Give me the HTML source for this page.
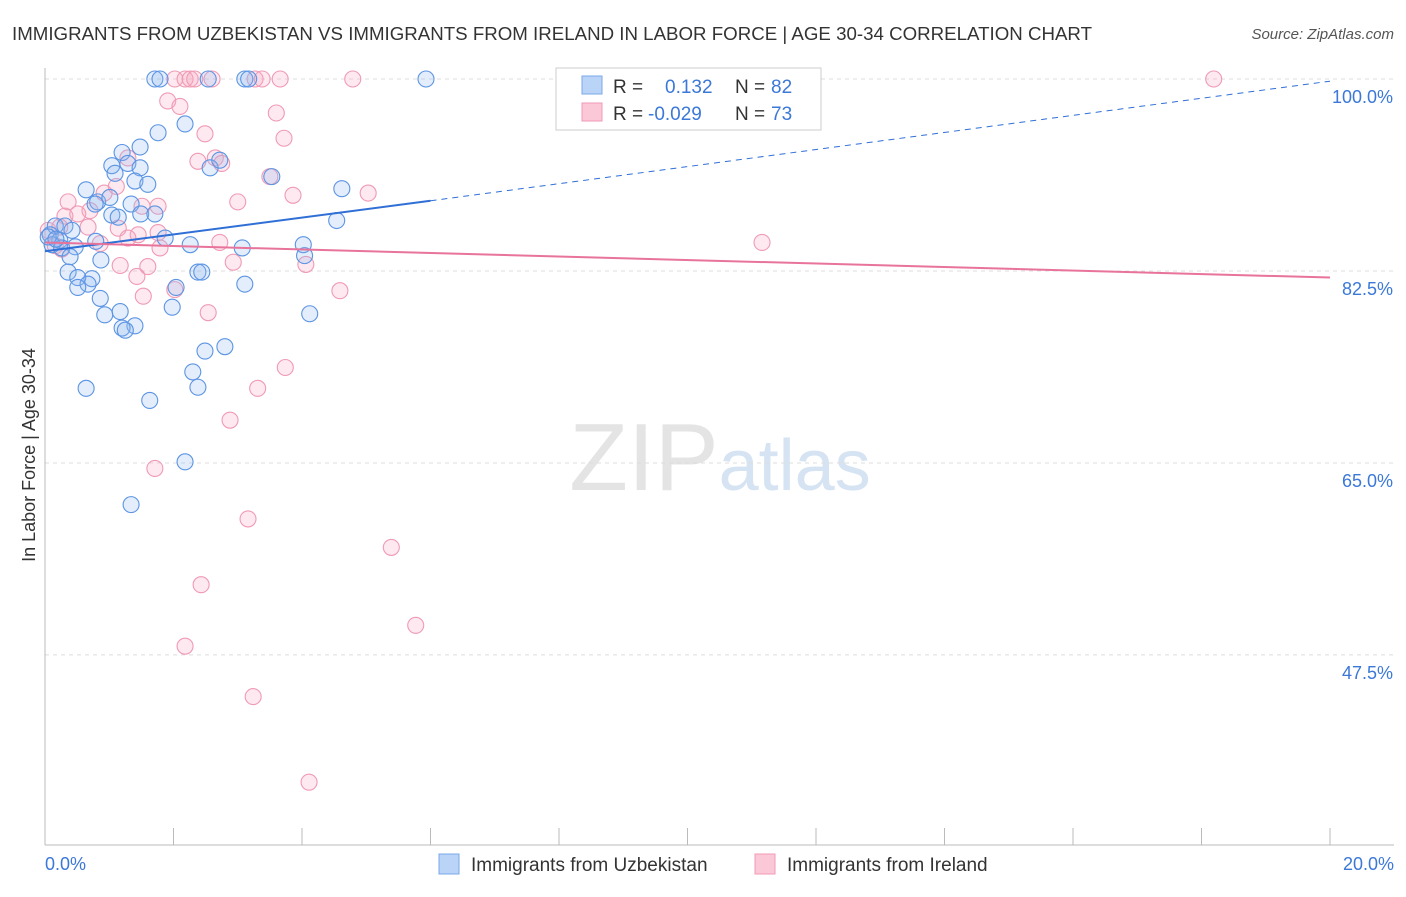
<!DOCTYPE html>
<html><head><meta charset="utf-8"><style>
body{margin:0;background:#fff;font-family:"Liberation Sans",sans-serif;}
svg text{font-family:"Liberation Sans",sans-serif;}
</style></head><body>
<svg id="chart" width="1406" height="892">
<text x="12" y="40" font-size="18" fill="#333" textLength="1080" lengthAdjust="spacingAndGlyphs">IMMIGRANTS FROM UZBEKISTAN VS IMMIGRANTS FROM IRELAND IN LABOR FORCE | AGE 30-34 CORRELATION CHART</text>
<text x="1394" y="39" font-size="15" fill="#555" font-style="italic" text-anchor="end">Source: ZipAtlas.com</text>
<text x="720" y="490" font-size="96" fill="#e4e4e4" text-anchor="middle" font-family="Liberation Serif">ZIP<tspan fill="#d6e3f3" font-family="Liberation Sans" font-size="72">atlas</tspan></text>
<g id="grid"></g>
<g id="axes"></g>
<g id="points"></g>
<g id="trends"></g>
<text x="35" y="455" font-size="18" fill="#333" text-anchor="middle" transform="rotate(-90 35 455)">In Labor Force | Age 30-34</text>
<g>
<rect x="556" y="68" width="265" height="62" fill="#fff" stroke="#ccc"/>
<rect x="582" y="76" width="20" height="18" fill="#b9d4f7" stroke="#7aa8e8"/>
<rect x="582" y="103" width="20" height="18" fill="#fbc8d8" stroke="#f09ab5"/>
<text x="613" y="93" font-size="19" fill="#333">R = </text><text x="665" y="93" font-size="19" fill="#3b78d8">0.132</text>
<text x="735" y="93" font-size="19" fill="#333">N = </text><text x="771" y="93" font-size="19" fill="#3b78d8">82</text>
<text x="613" y="120" font-size="19" fill="#333">R = </text><text x="648" y="120" font-size="19" fill="#3b78d8">-0.029</text>
<text x="735" y="120" font-size="19" fill="#333">N = </text><text x="771" y="120" font-size="19" fill="#3b78d8">73</text>
</g>
<g>
<rect x="439" y="854" width="20" height="20" fill="#b9d4f7" stroke="#7aa8e8"/>
<text x="471" y="871" font-size="19" fill="#333">Immigrants from Uzbekistan</text>
<rect x="755" y="854" width="20" height="20" fill="#fbc8d8" stroke="#f09ab5"/>
<text x="787" y="871" font-size="19" fill="#333">Immigrants from Ireland</text>
</g>
</svg>
<script>
const yTicks=[100,82.5,65,47.5];
const yTickLabels=["100.0%","82.5%","65.0%","47.5%"];
const xTickValues=[0,2,4,6,8,10,12,14,16,18,20];
const xLabels=["0.0%","20.0%"];
const blueX=[1.71,1.79,2.54,3.11,3.17,5.93,2.18,1.76,1.48,1.2,1.04,1.29,1.48,1.09,2.57,2.72,1.4,1.6,3.53,4.62,0.64,0.82,0.78,1.01,1.34,1.04,1.14,1.49,1.71,4.54,0.16,0.31,0.42,0.08,0.23,0.11,0.26,0.47,0.79,1.87,2.26,3.07,4.02,0.39,0.87,4.04,0.36,0.73,0.51,0.67,0.51,2.38,2.44,2.04,3.11,0.86,1.98,0.93,1.17,1.4,1.2,1.25,4.12,2.8,2.49,2.3,2.38,0.64,1.63,2.18,1.34,0.05,0.17];
const blueY=[100,100,100,100,100,100,95.9,95.1,93.8,93.3,92.1,92.3,91.9,91.4,91.9,92.6,90.7,90.4,91.1,90,89.9,88.8,88.6,89.2,88.6,87.6,87.4,87.7,87.7,87.1,86.6,86.6,86.2,85.8,85.3,84.9,84.6,84.7,85.2,85.5,84.9,84.6,84.9,83.8,83.5,83.9,82.4,81.8,81.9,81.3,81,82.4,82.4,81,81.3,80,79.2,78.5,78.8,77.5,77.3,77.1,78.6,75.6,75.2,73.3,71.9,71.8,70.7,65.1,61.2,85.6,85.4];
const pinkX=[2.02,2.18,2.26,2.33,2.6,3.27,3.38,3.66,4.79,18.19,1.91,2.1,3.6,2.49,3.72,2.38,2.65,2.75,3.5,1.29,1.11,0.92,3.86,5.03,0.36,3.0,1.76,0.7,0.31,0.51,1.51,0.05,0.23,0.67,1.14,1.45,1.76,0.86,1.29,2.72,1.79,11.16,2.93,4.06,1.17,1.6,1.43,2.02,1.53,4.59,2.54,3.74,3.31,2.88,1.71,3.16,5.39,2.43,5.77,2.18,3.24,4.11,0.16,0.26];
const pinkY=[100,100,100,100,100,100,100,100,100,100,98,97.5,96.9,95,94.6,92.5,92.8,92.3,91.1,92.8,90.2,89.6,89.4,89.6,88.8,88.8,88.4,88,87.5,87.7,88.4,86.2,86.5,86.5,86.4,85.8,86,85,85.5,85.1,84.6,85.1,83.3,83.1,83,82.9,82,80.8,80.2,80.7,78.7,73.7,71.8,68.9,64.5,59.9,57.3,53.9,50.2,48.3,43.7,35.9,84.8,84.5];
const blueTrend=[0.132,84.3,6.0,88.9,20,99.8];
const pinkTrend=[85.1,81.9];
const X=v=>45+v*64.25, Y=v=>79+(100-v)*10.97;
const NS="http://www.w3.org/2000/svg";
function mk(t,a,p){const e=document.createElementNS(NS,t);for(const k in a)e.setAttribute(k,a[k]);p.appendChild(e);return e;}
const grid=document.getElementById('grid'),axes=document.getElementById('axes'),pts=document.getElementById('points'),tr=document.getElementById('trends');
yTicks.forEach((v,i)=>{
 const l=mk('line',{x1:45,x2:1394,y1:Y(v),y2:Y(v),stroke:'#ddd','stroke-dasharray':'4,4'},grid);
 
 
 const t=mk('text',{x:1393,y:Y(v)+24,'font-size':18,fill:'#3b78d8','text-anchor':'end'},axes);t.textContent=yTickLabels[i];
 
 
});
mk('line',{x1:45,x2:45,y1:68,y2:845,stroke:'#bbb'},axes);
mk('line',{x1:45,x2:1394,y1:845,y2:845,stroke:'#bbb'},axes);
xTickValues.forEach(v=>{mk('line',{x1:X(v),x2:X(v),y1:828,y2:845,stroke:'#bbb'},axes);});
[[0,'start',45],[20,'end',1394]].forEach((o,i)=>{const t=mk('text',{x:o[2],y:870,'font-size':18,fill:'#3b78d8','text-anchor':o[1]},axes);t.textContent=xLabels[i];
 
 });
function dots(xs,ys,fill,stroke,name){xs.forEach((x,i)=>{const c=mk('circle',{cx:X(x),cy:Y(ys[i]),r:8,fill:fill,'fill-opacity':0.25,stroke:stroke,'stroke-width':1.1},pts);
 
 });}
dots(pinkX,pinkY,'#f7a8c1','#f09ab5','ireland-point');
dots(blueX,blueY,'#8fb8ee','#5b94e3','uzbekistan-point');
let l=mk('line',{x1:X(0),y1:Y(blueTrend[1]),x2:X(blueTrend[2]),y2:Y(blueTrend[3]),stroke:'#2f6fd6','stroke-width':2},tr);


l=mk('line',{x1:X(blueTrend[2]),y1:Y(blueTrend[3]),x2:X(blueTrend[4]),y2:Y(blueTrend[5]),stroke:'#2f6fd6','stroke-width':1,'stroke-dasharray':'6,5'},tr);


l=mk('line',{x1:X(0),y1:Y(pinkTrend[0]),x2:X(20),y2:Y(pinkTrend[1]),stroke:'#e8739b','stroke-width':2},tr);


</script>
</body></html>
